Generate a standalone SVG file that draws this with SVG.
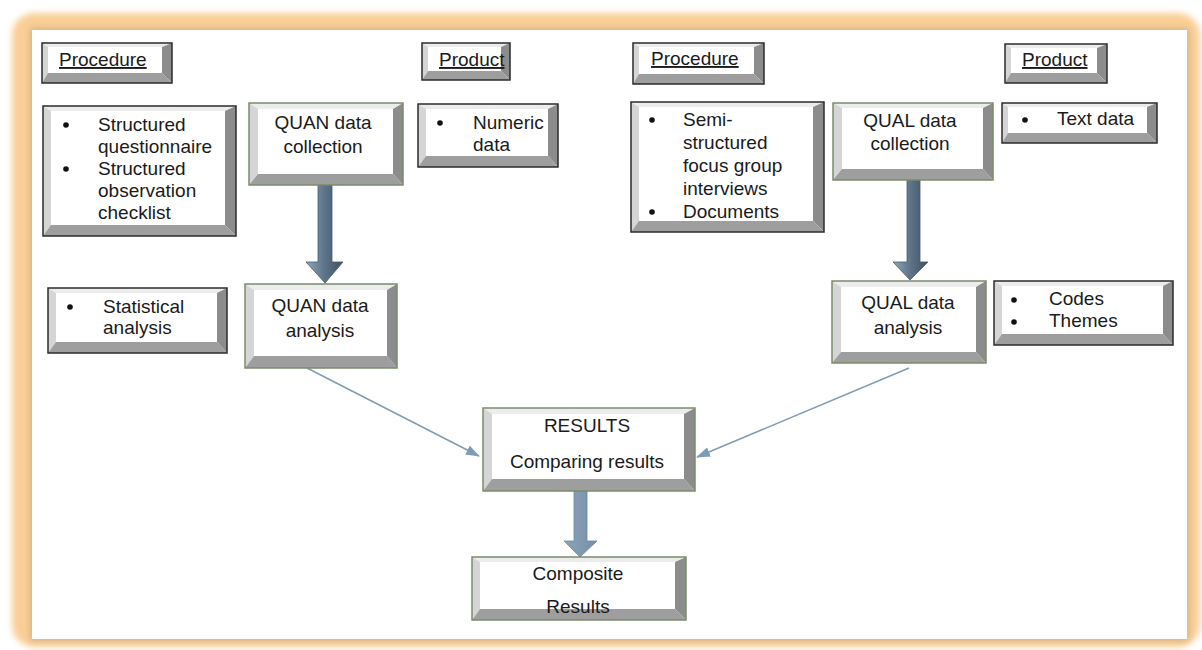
<svg xmlns="http://www.w3.org/2000/svg" width="1202" height="650" viewBox="0 0 1202 650">
<defs>
<filter id="glow" x="-5%" y="-5%" width="110%" height="110%"><feGaussianBlur stdDeviation="3"/></filter>
<linearGradient id="shaft" x1="0" y1="0" x2="1" y2="0">
<stop offset="0" stop-color="#8fa5b9"/><stop offset="0.5" stop-color="#5d7388"/><stop offset="1" stop-color="#3f5264"/>
</linearGradient>
<linearGradient id="shaft2" x1="0" y1="0" x2="1" y2="0">
<stop offset="0" stop-color="#8aa3bb"/><stop offset="1" stop-color="#7690a8"/>
</linearGradient>
<marker id="ah" viewBox="0 0 14 10" refX="13" refY="5" markerWidth="14" markerHeight="10" markerUnits="userSpaceOnUse" orient="auto">
<path d="M0,0 L14,5 L0,10 Z" fill="#7f9bb5"/>
</marker>
<style>
text{font-family:"Liberation Sans",Arial,sans-serif;font-size:19px;fill:#1a1a1a}
.c{text-anchor:middle}
.u{text-decoration:underline}
.bt{fill:#ececec}.bl{fill:#d5d5d5}.br{fill:#8c8c8c}.bb{fill:#9e9e9e}
.od{fill:none;stroke:#2b2b2b;stroke-width:1.5}
.og{fill:none;stroke:#7b8c6b;stroke-width:1.5}
.in{fill:#ffffff}
.dot{fill:#111}
.thin{stroke:#7f9bb5;stroke-width:1.5;fill:none}
.blk{stroke:#4a5c6c;stroke-width:0.8}
</style>
</defs>
<rect x="0" y="0" width="1202" height="650" fill="#ffffff"/>
<rect x="12" y="13" width="1188" height="634" rx="22" fill="#f9cf96" filter="url(#glow)"/>
<rect x="30" y="28" width="1159" height="613" fill="#d9b384" filter="url(#glow)"/>
<rect x="32" y="30" width="1155" height="609" fill="#ffffff"/>

<g id="connectors">
<path class="blk" d="M318,185 H332 V262 H343 L325,283 L306,262 H318 Z" fill="url(#shaft)"/>
<path class="blk" d="M907,180 H920 V262 H928 L910,280 L893,262 H907 Z" fill="url(#shaft)"/>
<path d="M574,491 H587 V541 H597 L580,557 L564,541 H574 Z" fill="url(#shaft2)" stroke="#6f88a0" stroke-width="0.8"/>
<line class="thin" x1="307" y1="368" x2="479" y2="456" marker-end="url(#ah)"/>
<line class="thin" x1="909" y1="368" x2="697" y2="457" marker-end="url(#ah)"/>
</g>

<g id="procedure-left">
<rect class="in" x="42" y="43" width="130" height="40"/>
<polygon class="bt" points="42,43 172,43 162,47 48,47"/>
<polygon class="bl" points="42,43 48,47 48,73 42,83"/>
<polygon class="br" points="172,43 172,83 162,73 162,47"/>
<polygon class="bb" points="42,83 172,83 162,73 48,73"/>
<rect class="od" x="42" y="43" width="130" height="40"/>
<text class="u" x="59" y="66">Procedure</text>
</g>

<g id="quan-procedure-list">
<rect class="in" x="43" y="106" width="193" height="130"/>
<polygon class="bt" points="43,106 236,106 225,111 51,111"/>
<polygon class="bl" points="43,106 51,111 51,225 43,236"/>
<polygon class="br" points="236,106 236,236 225,225 225,111"/>
<polygon class="bb" points="43,236 236,236 225,225 51,225"/>
<rect class="od" x="43" y="106" width="193" height="130"/>
<circle class="dot" cx="66" cy="125" r="2.8"/>
<circle class="dot" cx="66" cy="169" r="2.8"/>
<text x="98" y="131">Structured</text>
<text x="98" y="153">questionnaire</text>
<text x="98" y="175">Structured</text>
<text x="98" y="197">observation</text>
<text x="98" y="219">checklist</text>
</g>

<g id="quan-collection">
<rect class="in" x="249" y="103" width="154" height="82"/>
<polygon class="bt" points="249,103 403,103 393,109 258,109"/>
<polygon class="bl" points="249,103 258,109 258,174 249,185"/>
<polygon class="br" points="403,103 403,185 393,174 393,109"/>
<polygon class="bb" points="249,185 403,185 393,174 258,174"/>
<rect class="og" x="249" y="103" width="154" height="82"/>
<text class="c" x="323" y="129">QUAN data</text>
<text class="c" x="323" y="153">collection</text>
</g>

<g id="product-left">
<rect class="in" x="422" y="43" width="88" height="37"/>
<polygon class="bt" points="422,43 510,43 501,47 428,47"/>
<polygon class="bl" points="422,43 428,47 428,71 422,80"/>
<polygon class="br" points="510,43 510,80 501,71 501,47"/>
<polygon class="bb" points="422,80 510,80 501,71 428,71"/>
<rect class="od" x="422" y="43" width="88" height="37"/>
<text class="u" x="439" y="66">Product</text>
</g>

<g id="numeric-data">
<rect class="in" x="418" y="104" width="140" height="63"/>
<polygon class="bt" points="418,104 558,104 548,109 426,109"/>
<polygon class="bl" points="418,104 426,109 426,156 418,167"/>
<polygon class="br" points="558,104 558,167 548,156 548,109"/>
<polygon class="bb" points="418,167 558,167 548,156 426,156"/>
<rect class="od" x="418" y="104" width="140" height="63"/>
<circle class="dot" cx="440" cy="123" r="2.8"/>
<text x="473" y="129">Numeric</text>
<text x="473" y="151">data</text>
</g>

<g id="procedure-right">
<rect class="in" x="633" y="43" width="131" height="41"/>
<polygon class="bt" points="633,43 764,43 754,47 639,47"/>
<polygon class="bl" points="633,43 639,47 639,74 633,84"/>
<polygon class="br" points="764,43 764,84 754,74 754,47"/>
<polygon class="bb" points="633,84 764,84 754,74 639,74"/>
<rect class="od" x="633" y="43" width="131" height="41"/>
<text class="u" x="651" y="65">Procedure</text>
</g>

<g id="qual-procedure-list">
<rect class="in" x="631" y="102" width="193" height="130"/>
<polygon class="bt" points="631,102 824,102 813,107 639,107"/>
<polygon class="bl" points="631,102 639,107 639,221 631,232"/>
<polygon class="br" points="824,102 824,232 813,221 813,107"/>
<polygon class="bb" points="631,232 824,232 813,221 639,221"/>
<rect class="od" x="631" y="102" width="193" height="130"/>
<circle class="dot" cx="652" cy="120" r="2.8"/>
<circle class="dot" cx="652" cy="212" r="2.8"/>
<text x="683" y="126">Semi-</text>
<text x="683" y="149">structured</text>
<text x="683" y="172">focus group</text>
<text x="683" y="195">interviews</text>
<text x="683" y="218">Documents</text>
</g>

<g id="qual-collection">
<rect class="in" x="833" y="103" width="160" height="77"/>
<polygon class="bt" points="833,103 993,103 983,108 842,108"/>
<polygon class="bl" points="833,103 842,108 842,169 833,180"/>
<polygon class="br" points="993,103 993,180 983,169 983,108"/>
<polygon class="bb" points="833,180 993,180 983,169 842,169"/>
<rect class="og" x="833" y="103" width="160" height="77"/>
<text class="c" x="910" y="127">QUAL data</text>
<text class="c" x="910" y="150">collection</text>
</g>

<g id="product-right">
<rect class="in" x="1005" y="44" width="102" height="39"/>
<polygon class="bt" points="1005,44 1107,44 1097,48 1011,48"/>
<polygon class="bl" points="1005,44 1011,48 1011,73 1005,83"/>
<polygon class="br" points="1107,44 1107,83 1097,73 1097,48"/>
<polygon class="bb" points="1005,83 1107,83 1097,73 1011,73"/>
<rect class="od" x="1005" y="44" width="102" height="39"/>
<text class="u" x="1022" y="66">Product</text>
</g>

<g id="text-data">
<rect class="in" x="1002" y="103" width="155" height="40"/>
<polygon class="bt" points="1002,103 1157,103 1147,107 1008,107"/>
<polygon class="bl" points="1002,103 1008,107 1008,133 1002,143"/>
<polygon class="br" points="1157,103 1157,143 1147,133 1147,107"/>
<polygon class="bb" points="1002,143 1157,143 1147,133 1008,133"/>
<rect class="od" x="1002" y="103" width="155" height="40"/>
<circle class="dot" cx="1025" cy="120" r="2.8"/>
<text x="1057" y="125">Text data</text>
</g>

<g id="statistical-analysis">
<rect class="in" x="48" y="288" width="179" height="65"/>
<polygon class="bt" points="48,288 227,288 217,293 56,293"/>
<polygon class="bl" points="48,288 56,293 56,342 48,353"/>
<polygon class="br" points="227,288 227,353 217,342 217,293"/>
<polygon class="bb" points="48,353 227,353 217,342 56,342"/>
<rect class="od" x="48" y="288" width="179" height="65"/>
<circle class="dot" cx="70" cy="307" r="2.8"/>
<text x="103" y="313">Statistical</text>
<text x="103" y="334">analysis</text>
</g>

<g id="quan-analysis">
<rect class="in" x="245" y="284" width="152" height="84"/>
<polygon class="bt" points="245,284 397,284 387,290 254,290"/>
<polygon class="bl" points="245,284 254,290 254,356 245,368"/>
<polygon class="br" points="397,284 397,368 387,356 387,290"/>
<polygon class="bb" points="245,368 397,368 387,356 254,356"/>
<rect class="og" x="245" y="284" width="152" height="84"/>
<text class="c" x="320" y="312">QUAN data</text>
<text class="c" x="320" y="337">analysis</text>
</g>

<g id="qual-analysis">
<rect class="in" x="832" y="281" width="154" height="82"/>
<polygon class="bt" points="832,281 986,281 976,287 841,287"/>
<polygon class="bl" points="832,281 841,287 841,352 832,363"/>
<polygon class="br" points="986,281 986,363 976,352 976,287"/>
<polygon class="bb" points="832,363 986,363 976,352 841,352"/>
<rect class="og" x="832" y="281" width="154" height="82"/>
<text class="c" x="908" y="309">QUAL data</text>
<text class="c" x="908" y="334">analysis</text>
</g>

<g id="codes-themes">
<rect class="in" x="994" y="281" width="179" height="64"/>
<polygon class="bt" points="994,281 1173,281 1163,286 1002,286"/>
<polygon class="bl" points="994,281 1002,286 1002,334 994,345"/>
<polygon class="br" points="1173,281 1173,345 1163,334 1163,286"/>
<polygon class="bb" points="994,345 1173,345 1163,334 1002,334"/>
<rect class="od" x="994" y="281" width="179" height="64"/>
<circle class="dot" cx="1014" cy="300" r="2.8"/>
<circle class="dot" cx="1014" cy="322" r="2.8"/>
<text x="1049" y="305">Codes</text>
<text x="1049" y="327">Themes</text>
</g>

<g id="results">
<rect class="in" x="483" y="408" width="212" height="83"/>
<polygon class="bt" points="483,408 695,408 684,414 492,414"/>
<polygon class="bl" points="483,408 492,414 492,479 483,491"/>
<polygon class="br" points="695,408 695,491 684,479 684,414"/>
<polygon class="bb" points="483,491 695,491 684,479 492,479"/>
<rect class="og" x="483" y="408" width="212" height="83"/>
<text class="c" x="587" y="432">RESULTS</text>
<text class="c" x="587" y="468">Comparing results</text>
</g>

<g id="composite-results">
<rect class="in" x="472" y="557" width="214" height="63"/>
<polygon class="bt" points="472,557 686,557 675,562 480,562"/>
<polygon class="bl" points="472,557 480,562 480,609 472,620"/>
<polygon class="br" points="686,557 686,620 675,609 675,562"/>
<polygon class="bb" points="472,620 686,620 675,609 480,609"/>
<rect class="og" x="472" y="557" width="214" height="63"/>
<text class="c" x="578" y="580">Composite</text>
<text class="c" x="578" y="613">Results</text>
</g>
</svg>
